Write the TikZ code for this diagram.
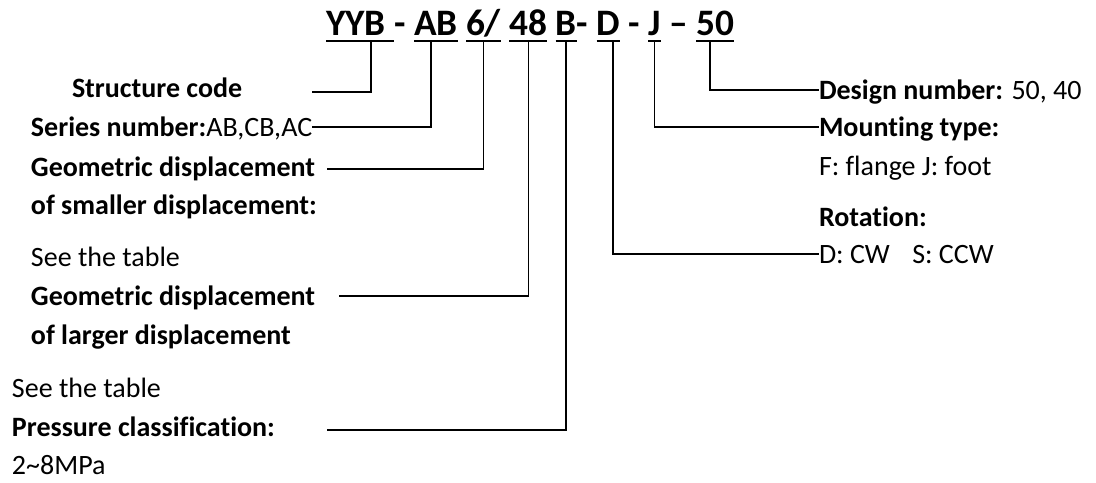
\documentclass[tikz,border=0pt]{standalone}
\usepackage{fontspec}
\setmainfont{Carlito}[Ligatures=NoCommon]
\usepackage{tikz}
\usetikzlibrary{positioning}
\tikzset{code/.style={font=\fontsize{28}{34}\selectfont\bfseries,inner sep=0pt,outer sep=0pt,text depth=4.5pt}}
\tikzset{lbl/.style={font=\fontsize{21}{25}\selectfont,inner sep=0pt,outer sep=0pt,text height=13.5pt,text depth=0pt,anchor=west}}
\tikzset{uline/.style={line width=2.2pt}}
\tikzset{link/.style={line width=1.2pt}}
\newcommand{\gap}{\mbox{\ }}

\begin{document}
\begin{tikzpicture}[x=0.75pt,y=-0.75pt]
      \useasboundingbox (0,0) rectangle (1096,482);
      % the type code
      \node[code,anchor=base west](YYB) at (326,35){YYB\gap};
      \node[code,base right=0pt of YYB](s1){-\gap};
      \node[code,base right=0pt of s1](AB){AB};
      \node[code,base right=0pt of AB](s2){\gap};
      \node[code,base right=0pt of s2](six){6/};
      \node[code,base right=0pt of six](s3){\gap};
      \node[code,base right=0pt of s3](fe){48};
      \node[code,base right=0pt of fe](s4){\gap};
      \node[code,base right=0pt of s4](B){B};
      \node[code,base right=0pt of B](s5){-\gap};
      \node[code,base right=0pt of s5](D){D};
      \node[code,base right=0pt of D](s6){\gap-\gap};
      \node[code,base right=0pt of s6](J){J};
      \node[code,base right=0pt of J](s7){\gap–\gap};
      \node[code,base right=0pt of s7](fifty){50};
      \foreach \n in {YYB,AB,six,fe,B,D,J,fifty}
        \draw[uline] (\n.south west) -- (\n.south east);

      % left side
      \node[lbl](struct) at (72,88){\textbf{Structure code}};
      \node[lbl](ser) at (31,127){\textbf{Series number:}AB,CB,AC};
      \node[lbl](geoA) at (31,167){\textbf{Geometric displacement}};
      \node[lbl](small) at (31,205){\textbf{of smaller displacement:}};
      \node[lbl](tabA) at (31,257){See the table};
      \node[lbl](geoB) at (31,296){\textbf{Geometric displacement}};
      \node[lbl](large) at (31,335){\textbf{of larger displacement}};
      \node[lbl](tabB) at (12,388){See the table};
      \node[lbl](prs) at (12,427){\textbf{Pressure classification:}};
      \node[lbl](mpa) at (12,465){2\textasciitilde 8MPa};

      % right side
      \node[lbl](dsn) at (819,90){\textbf{Design number:} 50, 40};
      \node[lbl](mnt) at (819,127){\textbf{Mounting type:}};
      \node[lbl](fj) at (819,166){F: flange J: foot};
      \node[lbl](rot) at (819,217){\textbf{Rotation:}};
      \node[lbl](dir) at (819,254){D: CW\hspace{0.8em}S: CCW};

      \coordinate (cStruct) at (312,92);
      \coordinate (cGeoA) at (327,169);
      \coordinate (cGeoB) at (339,296);
      \coordinate (cPrs) at (327,430);

      \draw[link] (cStruct) -| ([xshift=8.25pt]YYB.south);
      \draw[link] (ser.east) -| ([xshift=-3.75pt]AB.south);
      \draw[link] (cGeoA) -| (six.south);
      \draw[link] (cGeoB) -| (fe.south);
      \draw[link] (cPrs) -| (B.south);
      \draw[link] ([xshift=3.75pt]D.south) |- (dir.west);
      \draw[link] (J.south) |- (mnt.west);
      \draw[link] ([xshift=-3.75pt]fifty.south) |- (dsn.west);
    \end{tikzpicture}
\end{document}
